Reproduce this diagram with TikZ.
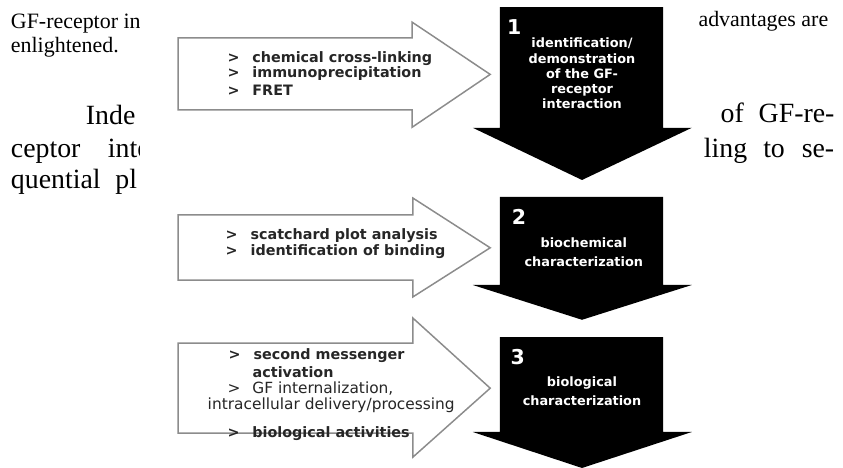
\documentclass[tikz,border=0pt]{standalone}
\usepackage{fontspec}
\setmainfont{Liberation Serif}
\newfontfamily\diagfont{DejaVu Sans}
\newcommand{\bul}{\makebox[11.8pt][l]{>}}

\begin{document}
\begin{tikzpicture}[line width=0.7pt,
  outline/.style={draw=black!45, fill=white},
  itemtxt/.style={anchor=west, inner sep=0pt, text=black!85,
    font=\diagfont\bfseries\fontsize{6.8}{7.6}\selectfont},
  itemlight/.style={itemtxt, font=\diagfont\fontsize{7.3}{7.6}\selectfont},
  stagetxt/.style={text=white, align=center, inner sep=0pt,
    font=\diagfont\bfseries\fontsize{6.1}{7.2}\selectfont},
  stagenum/.style={text=white, inner sep=0pt,
    font=\diagfont\bfseries\fontsize{9.7}{10}\selectfont},
  smalltxt/.style={anchor=base west, inner sep=0pt, font=\fontsize{10.4}{11}\selectfont},
  largetxt/.style={anchor=base west, inner sep=0pt, font=\fontsize{13.2}{14}\selectfont}]
\useasboundingbox (0,0) rectangle (14.05,7.80);
% ---------- page text, left column ----------
\begin{scope}
\clip (0,0) rectangle (2.33,7.80);
\node[smalltxt] (lt1) at (0.17,7.33) {GF-receptor in};
\node[smalltxt] (lt2) at (0.17,6.93) {enlightened.};
\node[largetxt] (lt3) at (1.42,5.72) {Inde};
\node[largetxt] (lt4) at (0.17,5.18) {ceptor\hspace{13pt}inte};
\node[largetxt] (lt5) at (0.17,4.65) {quential\hspace{7pt}pl};
\end{scope}
% ---------- page text, right column ----------
\begin{scope}
\clip (11.62,0) rectangle (14.05,7.80);
\node[smalltxt] (rt1) at (11.63,7.35) {advantages are};
\node[largetxt] (rt2) at (12.00,5.75) {of\hspace{7pt}GF-re-};
\node[largetxt] (rt3) at (11.72,5.17) {ling\hspace{7.6pt}to\hspace{8pt}se-};
\end{scope}
% ---------- methods (open arrows) ----------
\draw[outline] (2.97,7.17) -- (6.87,7.17) -- (6.87,7.43) -- (8.17,6.56)
  -- (6.87,5.68) -- (6.87,5.97) -- (2.97,5.97) -- cycle;
\draw[outline] (2.97,4.22) -- (6.88,4.22) -- (6.88,4.50) -- (8.17,3.67)
  -- (6.88,2.85) -- (6.88,3.13) -- (2.97,3.13) -- cycle;
\draw[outline] (2.97,2.08) -- (6.88,2.08) -- (6.88,2.50) -- (8.17,1.33)
  -- (6.88,0.18) -- (6.88,0.58) -- (2.97,0.58) -- cycle;
\node[itemtxt] (a1) at (3.78,6.83) {\bul chemical cross-linking};
\node[itemtxt] (a2) at (3.78,6.57) {\bul immunoprecipitation};
\node[itemtxt] (a3) at (3.78,6.30) {\bul FRET};
\node[itemtxt] (b1) at (3.75,3.88) {\bul scatchard plot analysis};
\node[itemtxt] (b2) at (3.75,3.60) {\bul identification of binding};
\node[itemtxt] (c1) at (3.80,1.88) {\bul second messenger};
\node[itemtxt] (c2) at (4.20,1.60) {activation};
\node[itemlight] (c3) at (3.78,1.32) {\bul GF internalization,};
\node[itemlight] (c4) at (3.45,1.05) {intracellular delivery/processing};
\node[itemtxt] (c5) at (3.78,0.57) {\bul biological activities};
% ---------- stages (solid arrows) ----------
\fill (8.33,7.68) -- (11.05,7.68) -- (11.05,5.67) -- (11.53,5.67)
  -- (9.70,4.80) -- (7.88,5.67) -- (8.33,5.67) -- cycle;
\fill (8.33,4.52) -- (11.05,4.52) -- (11.05,3.05) -- (11.53,3.05)
  -- (9.70,2.47) -- (7.88,3.05) -- (8.33,3.05) -- cycle;
\fill (8.33,2.18) -- (11.05,2.18) -- (11.05,0.60) -- (11.53,0.60)
  -- (9.70,0.00) -- (7.88,0.60) -- (8.33,0.60) -- cycle;
\node[stagenum] (n1) at (8.57,7.35) {1};
\node[stagetxt] (s1) at (9.70,6.575) {identification/\\demonstration\\of the GF-\\receptor\\interaction};
\node[stagenum] (n2) at (8.65,4.18) {2};
\node[stagetxt, font=\diagfont\bfseries\fontsize{6.1}{9}\selectfont] (s2) at (9.73,3.60) {biochemical\\characterization};
\node[stagenum] (n3) at (8.63,1.85) {3};
\node[stagetxt, font=\diagfont\bfseries\fontsize{6.1}{8.6}\selectfont] (s3) at (9.70,1.28) {biological\\characterization};
\end{tikzpicture}
\end{document}
